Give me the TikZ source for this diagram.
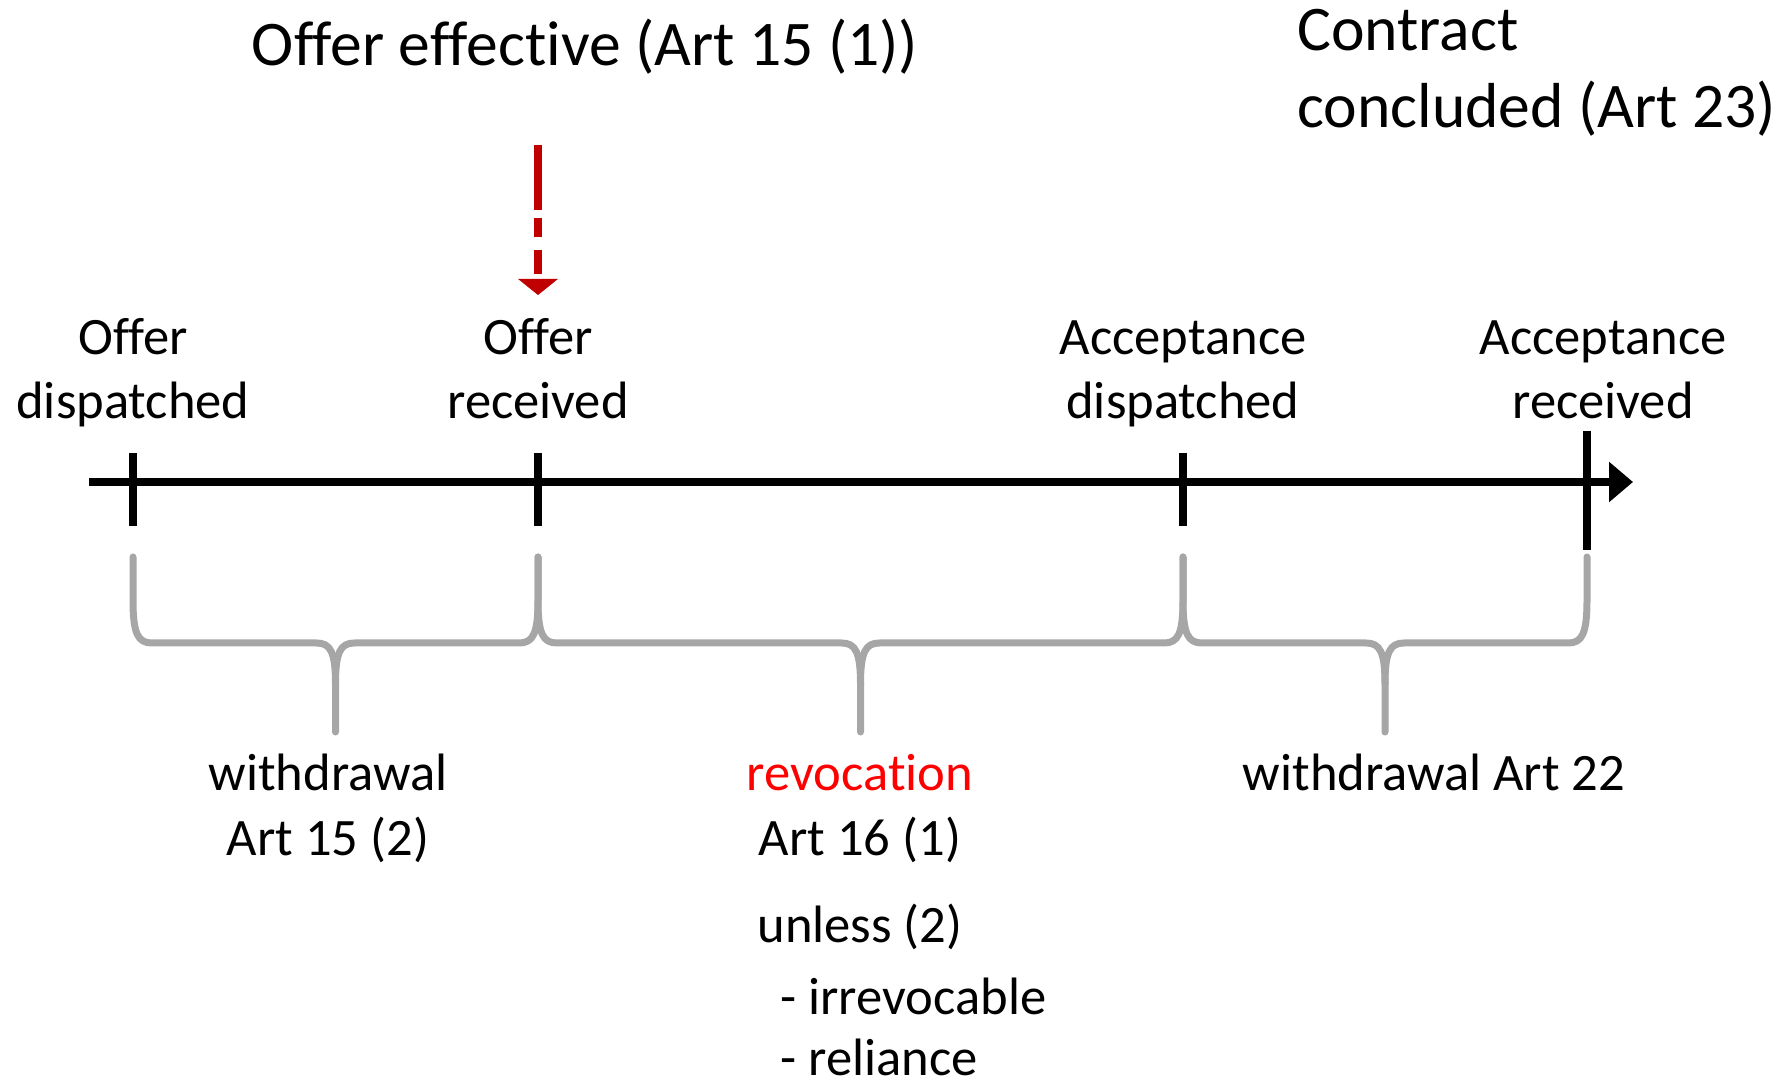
\documentclass[tikz,border=0pt]{standalone}
\usepackage{fontspec}
\setmainfont[Ligatures=NoCommon]{Carlito}
\usetikzlibrary{arrows.meta}
\definecolor{effred}{HTML}{C00000}
\definecolor{bracegray}{HTML}{A6A6A6}
\begin{document}
\begin{tikzpicture}[x=0.5pt,y=-0.5pt,
  lbl/.style={font=\fontsize{26.3}{32}\selectfont, anchor=base, inner sep=0pt},
  lbll/.style={lbl, anchor=base west},
  ttl/.style={font=\fontsize{31.8}{37.5}\selectfont, anchor=base, inner sep=0pt},
  ttll/.style={ttl, anchor=base west},
  axis/.style={line width=4pt, -{Triangle[length=12pt,width=19.5pt]}},
  tickmark/.style={line width=4pt},
  bracket/.style={draw=bracegray, line width=3.5pt, line cap=round, line join=round},
  effarrow/.style={draw=effred, line width=4pt,
    dash pattern=on 32.5pt off 4pt on 9.5pt off 6.5pt on 12pt off 20pt,
    -{Triangle[length=8pt,width=19.5pt,fill=effred]}}]
\useasboundingbox (0,0) rectangle (1790,1080);

% time axis and the four events on it
\coordinate (axisStart) at (89,482);
\coordinate (axisEnd) at (1633,482);
\draw[axis] (axisStart) -- (axisEnd);
\foreach \x/\t/\b in {133/453/526, 538/453/526, 1183/453/526, 1587/431/550}
  \draw[tickmark] (\x,\t) -- (\x,\b);

% event labels
\node[lbl] (odA) at (133,355) {Offer};
\node[lbl] (odB) at (133,419) {dispatched};
\node[lbl] (orA) at (538,355) {Offer};
\node[lbl] (orB) at (538,419) {received};
\node[lbl] (adA) at (1183,355) {Acceptance};
\node[lbl] (adB) at (1183,419) {dispatched};
\node[lbl] (arA) at (1603,355) {Acceptance};
\node[lbl] (arB) at (1603,419) {received};

% headings
\node[ttl] (eff) at (585,66) {Offer effective (Art 15 (1))};
\node[ttll] (conA) at (1297,51) {Contract};
\node[ttll] (conB) at (1297,128) {concluded (Art 23)};

% offer becomes effective on receipt
\coordinate (effTop) at (538,145);
\coordinate (effTip) at (538,295);
\draw[effarrow] (effTop) -- (effTip);

% curly brackets under the three periods
\foreach \a/\b in {133/538, 538/1183, 1183/1587} {
  \pgfmathsetmacro\c{(\a+\b)/2}
  \draw[bracket] (\a,557) -- (\a,600) .. controls (\a,634) and (\a+5,643) .. (\a+19,643)
    -- (\c-19,643) .. controls (\c-5,643) and (\c,652) .. (\c,684) -- (\c,732);
  \draw[bracket] (\b,557) -- (\b,600) .. controls (\b,634) and (\b-5,643) .. (\b-19,643)
    -- (\c+19,643) .. controls (\c+5,643) and (\c,652) .. (\c,684);
}

% period labels
\node[lbl] (wdA) at (328,790) {withdrawal};
\node[lbl] (wdB) at (328,855) {Art 15 (2)};
\node[lbl, text=red] (rvA) at (860,790) {revocation};
\node[lbl] (rvB) at (860,855) {Art 16 (1)};
\node[lbl] (rvC) at (860,942) {unless (2)};
\node[lbll] (rvD) at (780,1014) {- irrevocable};
\node[lbll] (rvE) at (780,1075) {- reliance};
\node[lbl] (wa) at (1434,790) {withdrawal Art 22};
\end{tikzpicture}
\end{document}
